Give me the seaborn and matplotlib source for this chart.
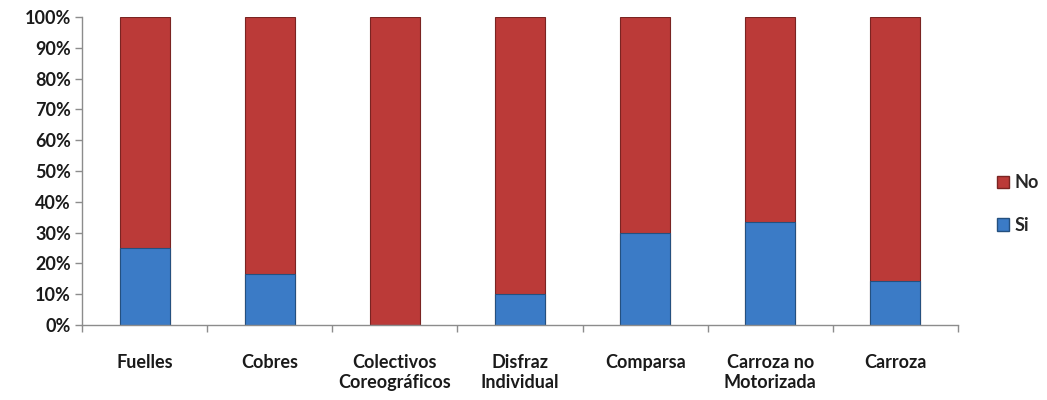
import matplotlib
matplotlib.use("Agg")
import matplotlib.pyplot as plt
import seaborn as sns
import pandas as pd
import numpy as np
from matplotlib.patches import Patch
from matplotlib.ticker import PercentFormatter, FixedLocator

categories = ["Fuelles", "Cobres", "Colectivos\nCoreográficos", "Disfraz\nIndividual",
              "Comparsa", "Carroza no\nMotorizada", "Carroza"]
si = [25.0, 16.7, 0.0, 10.0, 30.0, 33.3, 14.3]
no = [75.0, 83.3, 100.0, 90.0, 70.0, 66.7, 85.7]

red = "#BB3A38"
blue = "#3B7BC6"

sns.set_theme(style="white")
plt.rcParams["font.family"] = ["Lato", "DejaVu Sans"]

df = pd.DataFrame({"cat": categories, "si": si, "no": no})
df["total"] = df["si"] + df["no"]

fig = plt.figure(figsize=(10.47, 4.0), dpi=100)
ax = fig.add_axes([0.0783, 0.1875, 0.8367, 0.77])

sns.barplot(data=df, x="cat", y="total", color=red, width=0.4, saturation=1,
            edgecolor="#7A2422", linewidth=0.8, ax=ax)
sns.barplot(data=df, x="cat", y="si", color=blue, width=0.4, saturation=1,
            edgecolor="#24507F", linewidth=0.8, ax=ax)

ax.set_ylim(0, 100)
ax.set_xlim(-0.5, len(categories) - 0.5)
ax.yaxis.set_major_locator(FixedLocator(np.arange(0, 101, 10)))
ax.yaxis.set_major_formatter(PercentFormatter(decimals=0))
ax.set_xlabel("")
ax.set_ylabel("")

for s in ["top", "right"]:
    ax.spines[s].set_visible(False)
for s in ["left", "bottom"]:
    ax.spines[s].set_color("#8C8C8C")
    ax.spines[s].set_linewidth(1.0)

ax.tick_params(axis="y", which="major", direction="out", length=5, color="#8C8C8C",
               width=1, left=True, labelsize=13, pad=3)
ax.tick_params(axis="x", which="major", length=0, labelsize=13, pad=21)
ax.xaxis.set_minor_locator(FixedLocator(np.arange(-0.5, len(categories), 1.0)))
ax.tick_params(axis="x", which="minor", direction="out", length=5, color="#8C8C8C",
               width=1, bottom=True)
for lab in ax.get_xticklabels() + ax.get_yticklabels():
    lab.set_fontweight("bold")
    lab.set_color("#1A1A1A")
for lab in ax.get_xticklabels():
    lab.set_linespacing(1.2)
    lab.set_verticalalignment("top")

handles = [Patch(facecolor=red, edgecolor="#7A2422", label="No"),
           Patch(facecolor=blue, edgecolor="#24507F", label="Si")]
leg = fig.legend(handles=handles, loc="center left", bbox_to_anchor=(0.945, 0.49),
                 frameon=False, handlelength=0.7, handleheight=0.7, handletextpad=0.3,
                 labelspacing=1.4, prop={"weight": "bold", "size": 13}, borderaxespad=0)

fig.savefig("out.png", dpi=100)
